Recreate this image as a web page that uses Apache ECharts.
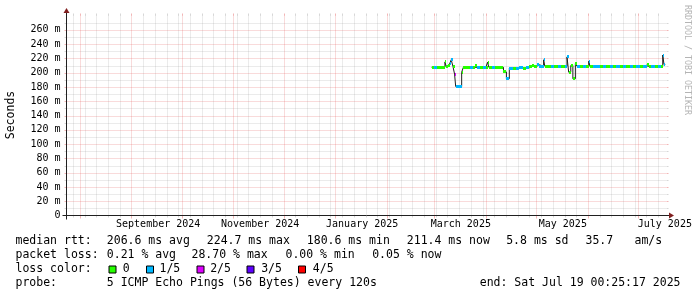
<!DOCTYPE html>
<html><head><meta charset="utf-8">
<script src="https://cdn.jsdelivr.net/npm/echarts@6/dist/echarts.min.js"></script>
<style>html,body{margin:0;padding:0;background:#fff}#c{width:697px;height:297px}</style>
</head><body><div id="c"></div>
<script>
// ---------------- data ----------------
const sampleTimes = [
 '2025-02-27T12:00','2025-03-01T00:00','2025-03-03T00:00','2025-03-05T00:00','2025-03-07T12:00','2025-03-08T06:00',
 '2025-03-09T12:00','2025-03-10T12:00','2025-03-11T06:00','2025-03-12T06:00','2025-03-13T06:00','2025-03-13T22:00',
 '2025-03-15T12:00','2025-03-17T12:00','2025-03-18T12:00','2025-03-20T12:00','2025-03-22T12:00','2025-03-24T00:00',
 '2025-03-25T12:00','2025-03-26T12:00','2025-03-28T12:00','2025-03-30T12:00','2025-04-01T00:00','2025-04-02T00:00',
 '2025-04-02T18:00','2025-04-04T12:00','2025-04-06T12:00','2025-04-09T00:00','2025-04-11T12:00','2025-04-13T06:00',
 '2025-04-15T00:00','2025-04-17T00:00','2025-04-19T00:00','2025-04-21T00:00','2025-04-23T00:00','2025-04-25T00:00',
 '2025-04-27T00:00','2025-04-28T12:00','2025-04-30T00:00','2025-05-01T12:00','2025-05-03T00:00','2025-05-05T12:00',
 '2025-05-06T06:00','2025-05-08T00:00','2025-05-10T00:00','2025-05-12T00:00','2025-05-14T00:00','2025-05-16T00:00',
 '2025-05-18T00:00','2025-05-19T12:00','2025-05-20T12:00','2025-05-21T18:00','2025-05-23T00:00','2025-05-24T12:00',
 '2025-05-25T12:00','2025-05-27T00:00','2025-05-29T00:00','2025-05-31T00:00','2025-06-01T12:00','2025-06-02T06:00',
 '2025-06-04T00:00','2025-06-06T00:00','2025-06-08T00:00','2025-06-10T00:00','2025-06-12T00:00','2025-06-14T00:00',
 '2025-06-16T00:00','2025-06-18T00:00','2025-06-20T00:00','2025-06-22T00:00','2025-06-24T00:00','2025-06-26T00:00',
 '2025-06-28T00:00','2025-06-30T00:00','2025-07-02T00:00','2025-07-04T00:00','2025-07-06T12:00','2025-07-07T06:00',
 '2025-07-09T00:00','2025-07-11T00:00','2025-07-13T00:00','2025-07-14T12:00','2025-07-15T18:00','2025-07-16T12:00'
];
const medianMs = [
 207.5,207.5,207.5,207.6,215.0,208.5,
 210.5,213.5,218.0,209.0,198.0,180.6,
 180.6,200.6,207.5,207.5,207.8,207.5,
 209.5,207.5,207.5,207.8,207.5,214.6,
 207.5,207.5,207.5,207.5,201.0,191.5,
 206.5,206.5,206.5,207.0,206.5,206.8,
 208.5,210.0,209.0,211.0,209.0,218.0,
 209.0,208.6,208.6,208.6,208.6,208.6,
 209.0,222.0,200.6,210.0,191.4,212.4,
 209.0,208.6,208.6,208.6,216.0,208.6,
 208.6,208.6,208.6,208.6,208.6,208.6,
 208.6,208.6,208.6,208.6,208.6,208.6,
 208.6,208.6,208.6,208.6,211.5,208.6,
 208.6,208.6,208.6,209.0,224.7,211.4
];
const lossIndex = [
 0,1,0,0,0,0,
 0,1,1,0,2,1,
 1,0,0,0,1,0,
 0,1,0,1,0,0,
 0,1,0,0,0,1,
 1,0,1,1,0,1,
 0,0,0,1,1,1,
 0,0,1,0,1,0,
 1,1,0,0,0,0,
 1,0,1,0,1,0,
 1,1,0,1,0,1,
 0,1,0,1,0,1,
 0,1,0,1,0,0,
 1,0,1,0,1,1
];
const dataEndTime = '2025-07-17T06:00';
const lossLabels = ['0','1/5','2/5','3/5','4/5'];
const lossColors = ['#26ff00','#00b8ff','#dd00ff','#5e00ff','#ff0000'];
const yTickValues = [0,20,40,60,80,100,120,140,160,180,200,220,240,260];
const xLabelMonths = ['2024-09-01','2024-11-01','2025-01-01','2025-03-01','2025-05-01','2025-07-01'];
const xLabels = ['September 2024','November 2024','January 2025','March 2025','May 2025','July 2025'];
const axisStart = '2024-07-24T04:00';
const axisEnd = '2025-07-18T00:00';
const statRows = [
 [['median rtt:',16],['206.6 ms avg',107.3],['224.7 ms max',207.3],['180.6 ms min',307.3],['211.4 ms now',407.3],['5.8 ms sd',506.7],['35.7',586],['am/s',635]],
 [['packet loss:',16],['0.21 % avg',107.3],['28.70 % max',192],['0.00 % min',286],['0.05 % now',372.7]],
 [['loss color:',16]],
 [['probe:',16],['5 ICMP Echo Pings (56 Bytes) every 120s',107.3]]
];
const endText = 'end: Sat Jul 19 00:25:17 2025';

// ---------------- helpers ----------------
const T = s => Date.parse(s.length === 10 ? s + 'T00:00:00Z' : s + ':00Z');
const DAY = 86400000;
const tMin = T(axisStart), tMax = T(axisEnd);
const FONT = '"DejaVu Sans Mono", monospace';
const G = {left: 66.5, top: 15.5, width: 600, height: 200};

// grid positions (calendar)
const monthStarts = [];
for (let y = 2024, m = 7; ; ) { const t = Date.UTC(y, m, 1); if (t > tMax) break; if (t >= tMin) monthStarts.push(t); m++; if (m > 11) { m = 0; y++; } }
const weekStarts = [];
for (let t = Date.UTC(2024, 6, 28); t <= tMax; t += 7 * DAY) { if (t >= tMin && monthStarts.indexOf(t) < 0) weekStarts.push(t); }
const labelTimes = xLabelMonths.map(s => T(s) + 16 * DAY);

const MINOR = 'rgba(150,150,150,0.38)';
const MAJOR = 'rgba(225,80,80,0.42)';

function vgrid(color, below) {
  return function (params, api) {
    const p = api.coord([api.value(0), 0]);
    const cs = params.coordSys;
    const x = Math.round(p[0]) + 0.5;
    const top = cs.y, bot = cs.y + cs.height;
    return {type: 'group', children: [
      {type: 'line', shape: {x1: x, y1: top - 2, x2: x, y2: top}, style: {stroke: color, lineWidth: 1}},
      {type: 'line', shape: {x1: x, y1: top, x2: x, y2: bot}, style: {stroke: color, lineWidth: 1, lineDash: [1, 1]}},
      {type: 'line', shape: {x1: x, y1: bot, x2: x, y2: bot + below}, style: {stroke: color, lineWidth: 1}}
    ]};
  };
}
function hgrid(color) {
  return function (params, api) {
    const p = api.coord([tMin, api.value(1)]);
    const cs = params.coordSys;
    const y = Math.round(p[1]) + 0.5;
    const l = cs.x, r = cs.x + cs.width;
    return {type: 'group', children: [
      {type: 'line', shape: {x1: l - 2, y1: y, x2: l, y2: y}, style: {stroke: color, lineWidth: 1}},
      {type: 'line', shape: {x1: l, y1: y, x2: r, y2: y}, style: {stroke: color, lineWidth: 1, lineDash: [1, 1]}},
      {type: 'line', shape: {x1: r, y1: y, x2: r + 2, y2: y}, style: {stroke: color, lineWidth: 1}}
    ]};
  };
}
const minorH = [], majorH = [];
for (let v = 10; v < 280; v += 10) { (v % 20 === 0 ? majorH : minorH).push([tMin, v]); }

const times = sampleTimes.map(T);
const tEnd = T(dataEndTime);
const lineData = times.map((t, i) => [t, medianMs[i]]).concat([[tEnd, medianMs[medianMs.length - 1]]]);
const bandData = times.map((t, i) => [t, medianMs[i], i + 1 < times.length ? times[i + 1] : tEnd, lossIndex[i]]);

// ---------------- graphic (axes decorations, legend text) ----------------
const gfx = [];
const AX = '#202020', ARROW = '#801f1f';
const X0 = G.left, Y0 = G.top + G.height, X1 = G.left + G.width, Y1 = G.top;
gfx.push({type: 'line', z: 50, shape: {x1: X0 - 4, y1: Y0, x2: X1 + 4, y2: Y0}, style: {stroke: AX, lineWidth: 1}});
gfx.push({type: 'line', z: 50, shape: {x1: X0, y1: Y0 + 4, x2: X0, y2: Y1 - 4}, style: {stroke: AX, lineWidth: 1}});
gfx.push({type: 'polygon', z: 51, shape: {points: [[X1 + 2.5, Y0 - 3], [X1 + 2.5, Y0 + 3], [X1 + 7.5, Y0]]}, style: {fill: ARROW}});
gfx.push({type: 'polygon', z: 51, shape: {points: [[X0 - 3, Y1 - 2.5], [X0 + 3, Y1 - 2.5], [X0, Y1 - 7.5]]}, style: {fill: ARROW}});
gfx.push({type: 'text', z: 50, x: 10.7, y: 115, rotation: Math.PI / 2,
  style: {text: 'Seconds', font: '11.5px ' + FONT, fill: '#000', align: 'center', verticalAlign: 'middle'}});
gfx.push({type: 'text', z: 50, x: 687, y: 60, rotation: -Math.PI / 2,
  style: {text: 'RRDTOOL / TOBI OETIKER', font: '8.3px ' + FONT, fill: '#b4b4b4', align: 'center', verticalAlign: 'middle'}});
const rowY = [241.3, 255.3, 269.5, 283.3];
statRows.forEach((row, r) => row.forEach(([s, x]) => {
  gfx.push({type: 'text', z: 50, x: x - 0.5, y: rowY[r], style: {text: s, font: '11.5px ' + FONT, fill: '#000', align: 'left', verticalAlign: 'middle'}});
}));
gfx.push({type: 'text', z: 50, x: 680.5, y: rowY[3], style: {text: endText, font: '11.5px ' + FONT, fill: '#000', align: 'right', verticalAlign: 'middle'}});
const boxX = [109, 146.5, 197, 247, 298.5];
const boxLabelX = [123.3, 160, 210.7, 261.7, 313.3];
lossLabels.forEach((lab, i) => {
  gfx.push({type: 'rect', z: 50, shape: {x: boxX[i], y: 266, width: 7, height: 7}, style: {fill: lossColors[i], stroke: '#000', lineWidth: 1}});
  gfx.push({type: 'text', z: 50, x: boxLabelX[i] - 0.5, y: rowY[2], style: {text: lab, font: '11.5px ' + FONT, fill: '#000', align: 'left', verticalAlign: 'middle'}});
});

// ---------------- chart ----------------
const chart = echarts.init(document.getElementById('c'), null, {renderer: 'canvas'});
chart.setOption({
  backgroundColor: '#ffffff',
  animation: false,
  grid: G,
  xAxis: {type: 'value', min: tMin, max: tMax,
    axisLine: {show: false}, axisTick: {show: false}, splitLine: {show: false},
    axisLabel: {customValues: labelTimes, formatter: v => { const i = labelTimes.indexOf(v); return i >= 0 ? xLabels[i] : ''; },
      fontFamily: FONT, fontSize: 10, color: '#000', margin: 4}},
  yAxis: {type: 'value', min: 0, max: 280,
    axisLine: {show: false}, axisTick: {show: false}, splitLine: {show: false},
    axisLabel: {customValues: yTickValues, formatter: v => v === 0 ? '0' : v + ' m',
      fontFamily: FONT, fontSize: 10, color: '#000', margin: 6}},
  series: [
    {type: 'custom', silent: true, z: 1, data: minorH, renderItem: hgrid(MINOR)},
    {type: 'custom', silent: true, z: 1, data: weekStarts.map(t => [t, 0]), renderItem: vgrid(MINOR, 2)},
    {type: 'custom', silent: true, z: 1, data: majorH, renderItem: hgrid(MAJOR)},
    {type: 'custom', silent: true, z: 1, data: monthStarts.map(t => [t, 0]), renderItem: vgrid(MAJOR, 3)},
    {type: 'line', z: 3, step: 'end', showSymbol: false, silent: true, data: lineData,
      lineStyle: {color: '#202020', width: 1}},
    {type: 'custom', z: 4, silent: true, data: bandData, encode: {x: [0, 2], y: 1},
      renderItem: function (params, api) {
        const a = api.coord([api.value(0), api.value(1)]);
        const b = api.coord([api.value(2), api.value(1)]);
        const xa = Math.round(a[0]), xb = Math.round(b[0]);
        return {type: 'rect', shape: {x: xa, y: Math.round(a[1] - 1.5), width: Math.max(1, xb - xa), height: 3},
          style: {fill: lossColors[api.value(3)]}};
      }}
  ],
  graphic: gfx
});
</script>
</body></html>
